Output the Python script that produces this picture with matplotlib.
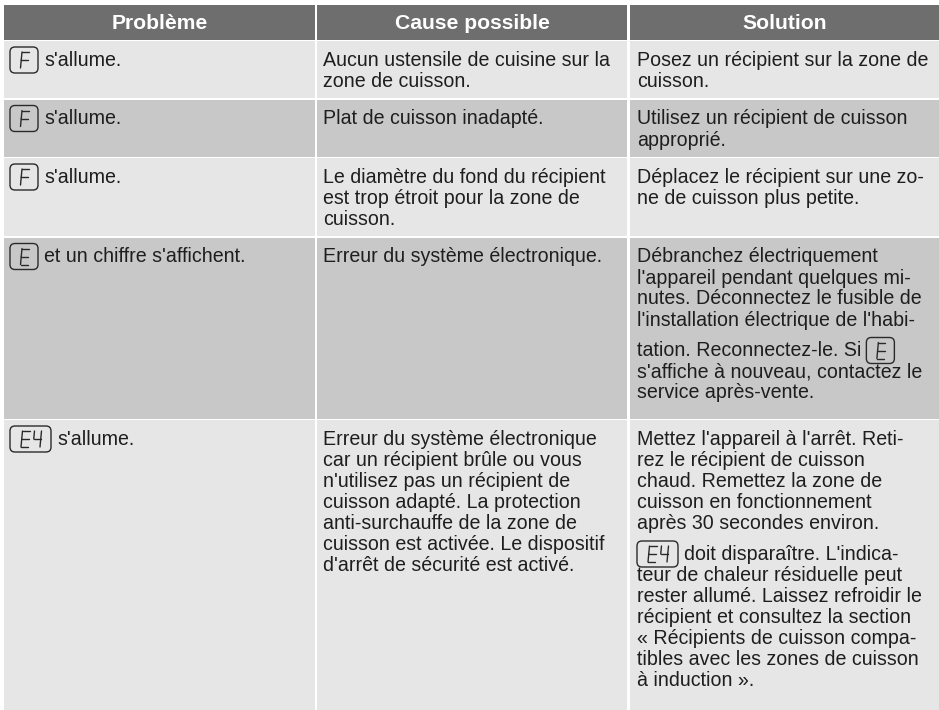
import re
import matplotlib
matplotlib.use("Agg")
import matplotlib.pyplot as plt
from matplotlib.patches import Rectangle, FancyBboxPatch

# table content ({X} = display symbol drawn in a rounded box)
headers = ["Problème", "Cause possible", "Solution"]
problems = [
    ["{F} s'allume."],
    ["{F} s'allume."],
    ["{F} s'allume."],
    ["{E} et un chiffre s'affichent."],
    ["{E4} s'allume."],
]
causes = [
    ["Aucun ustensile de cuisine sur la", "zone de cuisson."],
    ["Plat de cuisson inadapté."],
    ["Le diamètre du fond du récipient", "est trop étroit pour la zone de", "cuisson."],
    ["Erreur du système électronique."],
    ["Erreur du système électronique", "car un récipient brûle ou vous",
     "n'utilisez pas un récipient de", "cuisson adapté. La protection",
     "anti-surchauffe de la zone de", "cuisson est activée. Le dispositif",
     "d'arrêt de sécurité est activé."],
]
solutions = [
    ["Posez un récipient sur la zone de", "cuisson."],
    ["Utilisez un récipient de cuisson", "approprié."],
    ["Déplacez le récipient sur une zo-", "ne de cuisson plus petite."],
    ["Débranchez électriquement", "l'appareil pendant quelques mi-",
     "nutes. Déconnectez le fusible de", "l'installation électrique de l'habi-",
     "tation. Reconnectez-le. Si {E}", "s'affiche à nouveau, contactez le",
     "service après-vente."],
    ["Mettez l'appareil à l'arrêt. Reti-", "rez le récipient de cuisson",
     "chaud. Remettez la zone de", "cuisson en fonctionnement",
     "après 30 secondes environ.", "{E4} doit disparaître. L'indica-",
     "teur de chaleur résiduelle peut", "rester allumé. Laissez refroidir le",
     "récipient et consultez la section", "« Récipients de cuisson compa-",
     "tibles avec les zones de cuisson", "à induction »."],
]

# layout (pixels)
W, H, DPI = 939, 710, 100
col_left = [4, 317, 630]
col_right = [315, 627, 939]
HEAD_TOP, HEAD_H, GAP = 5, 34.5, 1.5
PAD_TOP, LINE, PAD_BOT = 19, 21, 17
ICON_EXTRA, ICON_PAD = 10, 9
BASE = 6          # baseline below line centre
FS = 14.1
HEAD_FS = 15.2
HEAD_BG, LIGHT, DARK = "#6e6e6e", "#e6e6e6", "#c8c8c8"
TEXT = "#1e1e1e"

# seven segment glyphs
SEG = {"a": ((0, 0), (1, 0)), "b": ((1, 0), (1, .5)), "c": ((1, .5), (1, 1)),
       "d": ((0, 1), (1, 1)), "e": ((0, .5), (0, 1)), "f": ((0, 0), (0, .5)),
       "g": ((0, .5), (1, .5))}
GLYPH = {"F": "afeg", "E": "afegd", "4": "fgbc"}

plt.rcParams["font.family"] = ["Liberation Sans", "DejaVu Sans"]
fig = plt.figure(figsize=(W / DPI, H / DPI), dpi=DPI)
ax = fig.add_axes([0, 0, 1, 1])
ax.set_xlim(0, W)
ax.set_ylim(H, 0)
ax.axis("off")
renderer = fig.canvas.get_renderer()


def draw_icon(x, yc, code):
    w = 15 + 13 * len(code)
    ax.add_patch(FancyBboxPatch((x, yc - 13), w, 26,
                                boxstyle="round,pad=0,rounding_size=5",
                                fc="none", ec="#2a2a2a", lw=1.0))
    gx = x + w / 2 - (7 + 12 * (len(code) - 1)) / 2
    for ch in code:
        for s in GLYPH[ch]:
            (x0, y0), (x1, y1) = SEG[s]
            xs = [gx + x0 * 7 + (1 - y0) * 1.5, gx + x1 * 7 + (1 - y1) * 1.5]
            ys = [yc - 8 + y0 * 16, yc - 8 + y1 * 16]
            ax.plot(xs, ys, color="#2a2a2a", lw=1.0, solid_capstyle="round")
        gx += 12
    return x + w


def draw_line(x, yc, line):
    for tok in re.split(r"(\{\w+\})", line):
        if not tok.strip():
            continue
        if tok.startswith("{"):
            x = draw_icon(x, yc, tok[1:-1]) + 6
        else:
            t = ax.text(x, yc + BASE, tok.strip(), fontsize=FS, color=TEXT,
                        va="baseline", ha="left")
            x += t.get_window_extent(renderer).width + 5


def line_centres(top, lines):
    ys, extra = [], 0
    for i, l in enumerate(lines):
        if i > 0 and "{" in l:
            extra += ICON_EXTRA
        ys.append(top + PAD_TOP + i * LINE + extra)
    return ys, extra


# header
for j, name in enumerate(headers):
    ax.add_patch(Rectangle((col_left[j], HEAD_TOP), col_right[j] - col_left[j], HEAD_H,
                           fc=HEAD_BG, ec="none"))
    ax.text((col_left[j] + col_right[j]) / 2, HEAD_TOP + HEAD_H / 2 + 7, name,
            fontsize=HEAD_FS, fontweight="bold", color="white", ha="center", va="baseline")

top = HEAD_TOP + HEAD_H + GAP
for r in range(len(problems)):
    cells = [problems[r], causes[r], solutions[r]]
    heights = []
    for lines in cells:
        ys, extra = line_centres(top, lines)
        heights.append(ys[-1] - top + PAD_BOT + (ICON_PAD if extra else 0))
    h = max(heights)
    if r == len(problems) - 1:
        h = H - top
    for j, lines in enumerate(cells):
        ax.add_patch(Rectangle((col_left[j], top), col_right[j] - col_left[j], h,
                               fc=LIGHT if r % 2 == 0 else DARK, ec="none"))
        ys, _ = line_centres(top, lines)
        x0 = col_left[j] + (6 if j < 2 else 7)
        for yc, l in zip(ys, lines):
            draw_line(x0, yc, l)
    top += h + GAP

fig.savefig("out.png", dpi=DPI)
